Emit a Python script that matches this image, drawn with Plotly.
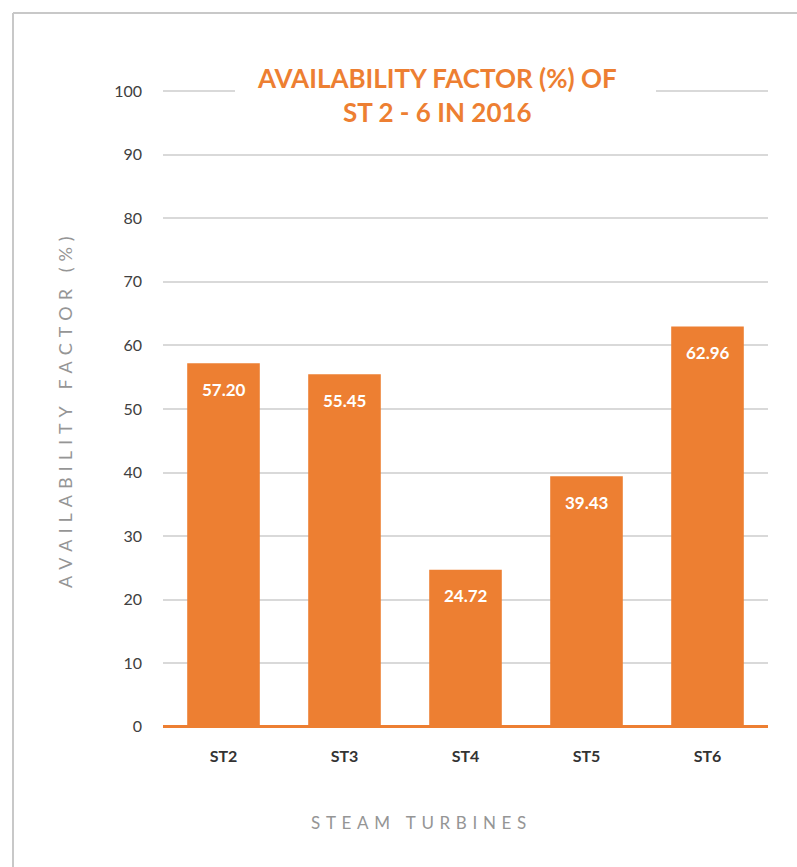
import plotly.graph_objects as go

categories = ["ST2", "ST3", "ST4", "ST5", "ST6"]
values = [57.20, 55.45, 24.72, 39.43, 62.96]
y_ticks = [0, 10, 20, 30, 40, 50, 60, 70, 80, 90, 100]

ORANGE = "#ED7F32"
W, H = 797, 867
ML, MR, MT, MB = 163, 29, 88, 137
PW = W - ML - MR
PH = H - MT - MB

def px_x(p):
    return (p - ML) / PW

def px_y(p):
    return 1 - (p - MT) / PH

def spaced(s, sp):
    return sp.join(s)

fig = go.Figure()
fig.add_trace(go.Bar(
    x=categories, y=values, marker=dict(color=ORANGE, line=dict(width=0)),
    hoverinfo="skip",
))

annotations = []
for c, v in zip(categories, values):
    annotations.append(dict(
        x=c, y=v, xref="x", yref="y", text=f"{v:.2f}", showarrow=False,
        yshift=-26, font=dict(family="Lato", size=17, color="white", weight=700),
    ))

annotations.append(dict(
    x=px_x(437), y=px_y(95), xref="paper", yref="paper",
    xanchor="center", yanchor="middle",
    text="AVAILABILITY FACTOR (%) OF<br>ST 2 - 6 IN 2016", showarrow=False,
    font=dict(family="Lato", size=26, color=ORANGE, weight=700),
    align="center",
))
annotations.append(dict(
    x=px_x(65), y=px_y(412), xref="paper", yref="paper",
    xanchor="center", yanchor="middle",
    text=spaced("AVAILABILITY FACTOR (%)", "\u2004"), textangle=-90, showarrow=False,
    font=dict(family="Lato", size=18, color="#959595"),
))
annotations.append(dict(
    x=px_x(418), y=px_y(822), xref="paper", yref="paper",
    xanchor="center", yanchor="middle",
    text=spaced("STEAM TURBINES", "\u2004"), showarrow=False,
    font=dict(family="Lato", size=17, color="#959595"),
))

shapes = [
    dict(type="line", xref="paper", yref="paper", x0=px_x(13), x1=px_x(W + 5),
         y0=px_y(13), y1=px_y(13), line=dict(color="#c8c8c8", width=2)),
    dict(type="line", xref="paper", yref="paper", x0=px_x(13), x1=px_x(13),
         y0=px_y(13), y1=px_y(H + 5), line=dict(color="#c8c8c8", width=2)),
    dict(type="rect", xref="paper", yref="paper", layer="above",
         x0=px_x(235), x1=px_x(656), y0=px_y(84), y1=px_y(98),
         fillcolor="white", line=dict(width=0)),
]

fig.update_layout(
    width=W, height=H, margin=dict(l=ML, r=MR, t=MT, b=MB),
    paper_bgcolor="white", plot_bgcolor="white",
    bargap=0.4, showlegend=False,
    annotations=annotations, shapes=shapes,
    font=dict(family="Lato"),
)
fig.update_xaxes(
    showgrid=False, showline=False, ticks="",
    tickfont=dict(family="Lato", size=16, color="#333333", weight=700),
    ticklabelstandoff=15,
)
fig.update_yaxes(
    range=[-0.5, 100.5], tickvals=y_ticks, showgrid=True, gridcolor="#d9d9d9",
    gridwidth=1.5, zeroline=True, zerolinecolor=ORANGE, zerolinewidth=3,
    showline=False, ticks="",
    tickfont=dict(family="Lato", size=16, color="#404040"),
    ticklabelstandoff=20,
)

fig.write_html("out.html")
